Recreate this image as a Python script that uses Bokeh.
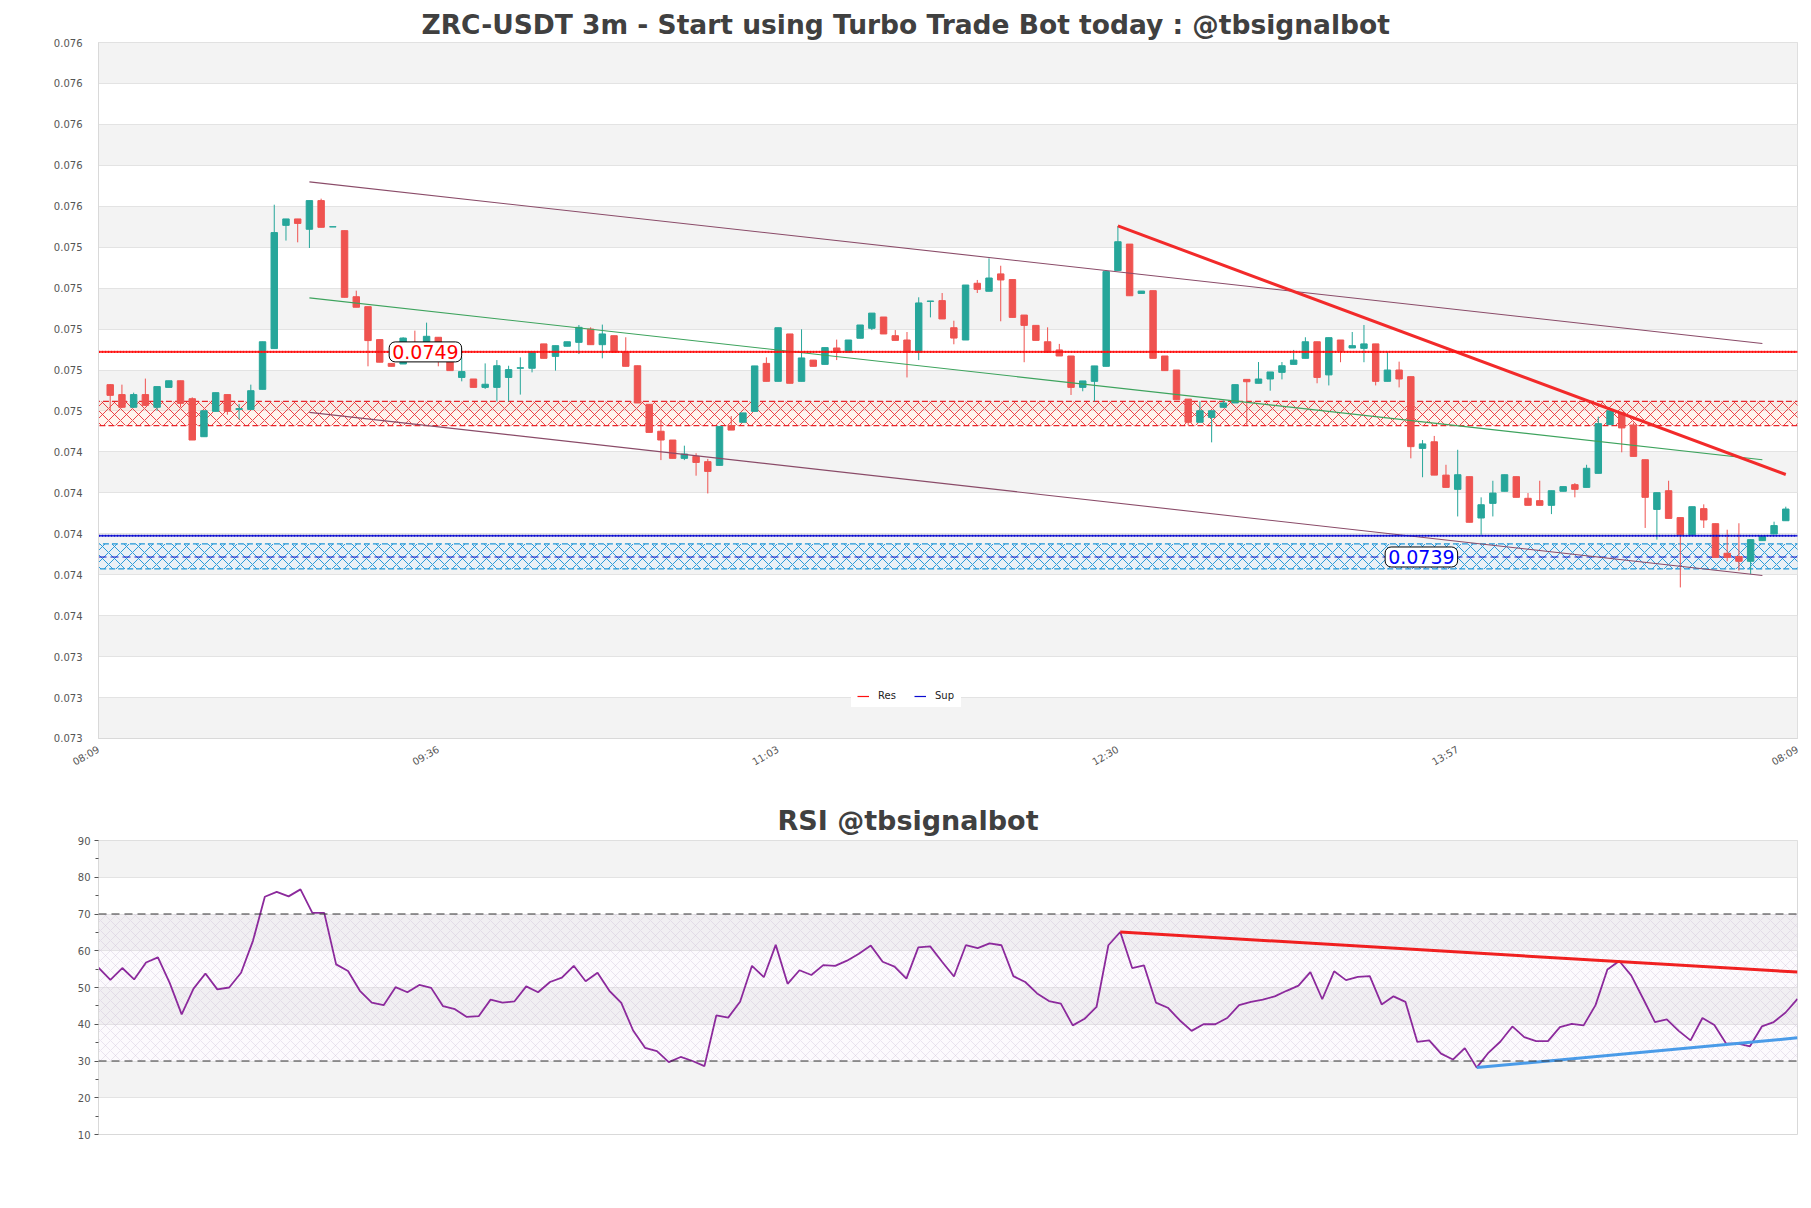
from bokeh.plotting import figure
from bokeh.models import ColumnDataSource, FixedTicker, Span, Label, Legend, LegendItem
from bokeh.layouts import column
from bokeh.embed import file_html
from bokeh.resources import INLINE

TITLE_MAIN = "ZRC-USDT 3m - Start using Turbo Trade Bot today : @tbsignalbot"
TITLE_RSI = "RSI @tbsignalbot"

X_TICKS = [-1, 28, 57, 86, 115, 144]
X_TICK_LABELS = ["08:09", "09:36", "11:03", "12:30", "13:57", "08:09"]

Y_TICKS = [0.07288, 0.07309, 0.0733, 0.07351, 0.07372, 0.07393, 0.07414, 0.07435, 0.07456,
           0.07477, 0.07498, 0.07519, 0.0754, 0.07561, 0.07582, 0.07603, 0.07624, 0.07645]
Y_TICK_LABELS = ["0.073", "0.073", "0.073", "0.074", "0.074", "0.074", "0.074", "0.074", "0.075",
                 "0.075", "0.075", "0.075", "0.075", "0.076", "0.076", "0.076", "0.076", "0.076"]

OPEN = [0.074695, 0.074644, 0.074579, 0.074644, 0.074579, 0.074681, 0.074715, 0.074623, 0.074428, 0.074558,
        0.074644, 0.074568, 0.074568, 0.074671, 0.07488, 0.075512, 0.075545, 0.075492, 0.075639, 0.075504,
        0.075485, 0.075146, 0.075095, 0.074926, 0.074804, 0.074801, 0.074912, 0.074886, 0.074938, 0.074852,
        0.074732, 0.074724, 0.074681, 0.074681, 0.074732, 0.074779, 0.074779, 0.074904, 0.07484, 0.074892,
        0.074912, 0.07498, 0.0749, 0.074946, 0.074862, 0.074792, 0.074594, 0.074456, 0.074411, 0.074317,
        0.074327, 0.0743, 0.074281, 0.074485, 0.074502, 0.074558, 0.074804, 0.074712, 0.074955, 0.074712,
        0.074821, 0.074799, 0.074883, 0.074861, 0.074933, 0.074984, 0.075042, 0.074946, 0.074924, 0.074861,
        0.075122, 0.075126, 0.074987, 0.074924, 0.075215, 0.075174, 0.075263, 0.075234, 0.075052, 0.074999,
        0.074915, 0.074873, 0.074842, 0.074681, 0.074712, 0.074789, 0.07528, 0.075416, 0.075163, 0.075177,
        0.074842, 0.07477, 0.074621, 0.074502, 0.074527, 0.074579, 0.074601, 0.074722, 0.074702, 0.074724,
        0.074758, 0.074799, 0.07483, 0.074915, 0.074745, 0.074924, 0.074883, 0.074881, 0.074904, 0.074712,
        0.07477, 0.074736, 0.074368, 0.074402, 0.074231, 0.074158, 0.074223, 0.074011, 0.074086, 0.074148,
        0.074223, 0.074112, 0.0741, 0.074076, 0.074148, 0.074182, 0.074168, 0.07424, 0.07449, 0.074553,
        0.074488, 0.07431, 0.074055, 0.074151, 0.074013, 0.073925, 0.074059, 0.073982, 0.07383, 0.073813,
        0.073789, 0.073895, 0.073929, 0.073997]
HIGH = [0.074698, 0.074695, 0.074654, 0.074726, 0.074685, 0.074715, 0.074715, 0.07463, 0.074561, 0.074654,
        0.074644, 0.074596, 0.074695, 0.074915, 0.075618, 0.075545, 0.075545, 0.075639, 0.075649, 0.075505,
        0.075485, 0.075177, 0.075095, 0.074926, 0.074804, 0.074938, 0.074972, 0.075013, 0.074938, 0.074861,
        0.074835, 0.074724, 0.074804, 0.074821, 0.074792, 0.074835, 0.074864, 0.074904, 0.074895, 0.074915,
        0.075001, 0.074989, 0.075003, 0.074946, 0.074938, 0.074792, 0.074594, 0.074514, 0.074411, 0.074382,
        0.074343, 0.074314, 0.074481, 0.074534, 0.07455, 0.074791, 0.074835, 0.074987, 0.074955, 0.074979,
        0.074821, 0.074885, 0.074926, 0.074924, 0.075001, 0.075062, 0.075042, 0.074975, 0.074965, 0.075143,
        0.075124, 0.075165, 0.075023, 0.075206, 0.075232, 0.075343, 0.075305, 0.075234, 0.075052, 0.074999,
        0.074989, 0.074904, 0.074842, 0.074714, 0.074791, 0.075275, 0.075509, 0.075416, 0.075175, 0.075177,
        0.074842, 0.07477, 0.074621, 0.074609, 0.074561, 0.074613, 0.074695, 0.074722, 0.074811, 0.07476,
        0.074811, 0.074873, 0.074938, 0.074915, 0.074936, 0.074924, 0.074965, 0.075001, 0.074904, 0.074862,
        0.074813, 0.074736, 0.074411, 0.074432, 0.074284, 0.074361, 0.074223, 0.074117, 0.074202, 0.074233,
        0.074223, 0.074139, 0.074202, 0.074151, 0.074172, 0.07419, 0.074284, 0.074531, 0.074561, 0.074553,
        0.0745, 0.07431, 0.074141, 0.074202, 0.074013, 0.074069, 0.074081, 0.073982, 0.073951, 0.073984,
        0.0739, 0.073917, 0.073992, 0.074069]
LOW = [0.074558, 0.074575, 0.074575, 0.074585, 0.074561, 0.074681, 0.074579, 0.074411, 0.074428, 0.074558,
       0.074541, 0.074517, 0.074568, 0.074671, 0.07488, 0.075434, 0.075425, 0.075396, 0.075502, 0.075504,
       0.075143, 0.075092, 0.074789, 0.07481, 0.074789, 0.074801, 0.074852, 0.074886, 0.074789, 0.074767,
       0.074712, 0.074681, 0.074673, 0.074609, 0.074609, 0.074644, 0.074758, 0.07483, 0.074767, 0.074892,
       0.074852, 0.0749, 0.07483, 0.074861, 0.074789, 0.074601, 0.07445, 0.074308, 0.074317, 0.074308,
       0.074228, 0.074137, 0.074281, 0.074462, 0.074502, 0.074558, 0.074712, 0.074712, 0.074702, 0.074712,
       0.074789, 0.074799, 0.074821, 0.074861, 0.074933, 0.074975, 0.074955, 0.074922, 0.074732, 0.074821,
       0.07504, 0.075032, 0.074902, 0.074924, 0.075165, 0.075174, 0.07502, 0.07504, 0.07481, 0.074922,
       0.074861, 0.074842, 0.074642, 0.074661, 0.074609, 0.074789, 0.07528, 0.075151, 0.075163, 0.07483,
       0.074767, 0.074618, 0.074485, 0.074502, 0.074399, 0.074579, 0.074601, 0.074488, 0.074702, 0.074664,
       0.074722, 0.074799, 0.07483, 0.074702, 0.074691, 0.07481, 0.074883, 0.07481, 0.074691, 0.074712,
       0.074681, 0.074317, 0.07422, 0.074231, 0.074168, 0.074019, 0.073989, 0.073925, 0.074019, 0.074148,
       0.074117, 0.074076, 0.074076, 0.074031, 0.074148, 0.074117, 0.074168, 0.07424, 0.07449, 0.074348,
       0.074327, 0.07396, 0.0739, 0.074009, 0.073655, 0.073925, 0.07396, 0.073809, 0.073789, 0.073741,
       0.073724, 0.073895, 0.073929, 0.073997]
CLOSE = [0.07464, 0.074579, 0.074644, 0.074589, 0.074685, 0.074715, 0.074599, 0.074411, 0.074561, 0.074654,
         0.074558, 0.074572, 0.074664, 0.074915, 0.075475, 0.075545, 0.075522, 0.075639, 0.075502, 0.075505,
         0.075143, 0.075092, 0.074921, 0.07481, 0.074789, 0.074934, 0.074861, 0.074943, 0.074852, 0.074767,
         0.074762, 0.074681, 0.074697, 0.074792, 0.074772, 0.074782, 0.074864, 0.07483, 0.074895, 0.074915,
         0.074989, 0.0749, 0.074955, 0.074861, 0.074789, 0.074601, 0.07445, 0.074411, 0.074317, 0.074339,
         0.074296, 0.07425, 0.074481, 0.074462, 0.07455, 0.074791, 0.074712, 0.074987, 0.074702, 0.074832,
         0.074789, 0.074885, 0.074861, 0.074924, 0.075001, 0.075062, 0.074955, 0.074922, 0.074861, 0.075114,
         0.075124, 0.075032, 0.074934, 0.075206, 0.075184, 0.075242, 0.075232, 0.07504, 0.074999, 0.074922,
         0.074861, 0.074842, 0.074681, 0.074714, 0.074791, 0.075275, 0.075428, 0.075151, 0.075175, 0.07483,
         0.074767, 0.074618, 0.074502, 0.074561, 0.074561, 0.074601, 0.074695, 0.07471, 0.074724, 0.07476,
         0.074792, 0.074821, 0.074915, 0.074732, 0.074936, 0.074869, 0.074895, 0.074904, 0.074712, 0.07477,
         0.074724, 0.074377, 0.074391, 0.074231, 0.074168, 0.074233, 0.073989, 0.074079, 0.074139, 0.074233,
         0.074117, 0.074076, 0.074076, 0.074151, 0.074172, 0.074158, 0.074266, 0.074495, 0.074561, 0.074473,
         0.074327, 0.074117, 0.074141, 0.074009, 0.073925, 0.074069, 0.074001, 0.073809, 0.073809, 0.073789,
         0.0739, 0.073917, 0.073972, 0.074057]

RSI = [55.4, 52.1, 55.3, 52.2, 56.8, 58.2, 51.2, 42.7, 49.7, 53.8,
       49.5, 50.0, 54.0, 62.7, 74.7, 76.0, 74.8, 76.7, 70.3, 70.3,
       56.3, 54.5, 49.1, 45.9, 45.2, 50.1, 48.7, 50.7, 49.9, 44.9,
       44.1, 42.0, 42.2, 46.7, 45.9, 46.2, 50.3, 48.7, 51.5, 52.7,
       55.9, 51.7, 54.0, 49.1, 45.8, 38.3, 33.6, 32.7, 29.7, 31.1,
       30.0, 28.6, 42.4, 41.8, 46.1, 55.9, 52.8, 61.6, 51.0, 54.7,
       53.4, 56.1, 55.9, 57.3, 59.2, 61.4, 57.0, 55.7, 52.4, 60.9,
       61.2, 57.0, 53.0, 61.5, 60.7, 62.0, 61.5, 53.1, 51.5, 48.4,
       46.3, 45.6, 39.7, 41.5, 44.7, 61.5, 65.1, 55.3, 56.0, 45.9,
       44.5, 41.1, 38.2, 40.0, 40.0, 41.7, 45.2, 46.1, 46.7, 47.6,
       49.1, 50.5, 54.2, 46.8, 54.4, 52.0, 52.9, 53.1, 45.4, 47.6,
       46.1, 35.2, 35.6, 32.0, 30.4, 33.5, 28.2, 32.3, 35.3, 39.4,
       36.5, 35.4, 35.4, 39.2, 40.1, 39.7, 45.2, 54.9, 57.2, 53.3,
       47.0, 40.6, 41.3, 38.2, 35.6, 41.7, 39.8, 34.7, 34.7, 34.0,
       39.4, 40.6, 43.2, 46.9]

RSI_TICKS = [10, 20, 30, 40, 50, 60, 70, 80, 90]
RSI_MINOR = [15, 25, 35, 45, 55, 65, 75, 85]
RSI_LEVELS = [70, 30]

# channel and trend lines: (x indices, prices)
CH_UPPER_X, CH_UPPER_Y = [17, 141], [0.075735, 0.074906]
CH_MID_X, CH_MID_Y = [17, 141], [0.07514, 0.07431]
CH_LOWER_X, CH_LOWER_Y = [17, 141], [0.074553, 0.073716]
TREND_X, TREND_Y = [86, 143], [0.075509, 0.074234]

RES_LEVEL = 0.074863
RES_ZONE = [0.074485, 0.074609]
SUP_LEVEL = 0.07392
SUP_ZONE = [0.07375, 0.073878]
SUP_MID = 0.073811
RES_TEXT, RES_TEXT_X = "0.0749", 26.9
SUP_TEXT, SUP_TEXT_X = "0.0739", 111.9
LEGEND_LABELS = ["Res", "Sup"]

RSI_RES_X, RSI_RES_Y = [86, 143], [65.1, 54.2]
RSI_SUP_X, RSI_SUP_Y = [116, 143], [28.2, 36.3]

UP, DOWN = "#26a69a", "#ef5350"
RES_COLOR, SUP_COLOR = "#ff1010", "#0a0ad0"
FONT = "DejaVu Sans"
LABEL_COLOR = "#555555"

n = len(OPEN)
idx = list(range(n))
colors = [UP if c >= o else DOWN for o, c in zip(OPEN, CLOSE)]
src = ColumnDataSource(dict(x=idx, o=OPEN, h=HIGH, l=LOW, c=CLOSE,
                            top=[max(o, c) for o, c in zip(OPEN, CLOSE)],
                            bot=[min(o, c) for o, c in zip(OPEN, CLOSE)],
                            col=colors))

W = 1803
X0, X1 = X_TICKS[0], X_TICKS[-1]

p = figure(width=W, height=790, x_range=(X0 - 1e-6, X1 + 1e-6),
           y_range=(Y_TICKS[0] - 1e-9, Y_TICKS[-1] + 1e-9),
           output_backend="svg", toolbar_location=None,
           min_border_left=98, min_border_right=6, min_border_top=42, min_border_bottom=52)
p.title.text = TITLE_MAIN
p.title.text_font = FONT
p.title.text_font_size = "26.5px"
p.title.text_font_style = "bold"
p.title.text_color = "#404040"
p.title.align = "left"
p.title.offset = 323
p.title.standoff = 6
p.background_fill_color = "white"
p.border_fill_color = "white"
p.outline_line_color = "#d9d9d9"

p.xgrid.visible = False
p.ygrid.ticker = FixedTicker(ticks=Y_TICKS)
p.ygrid.grid_line_color = "#e3e3e3"
p.ygrid.band_fill_color = "#f3f3f3"
p.ygrid.band_fill_alpha = 1.0

p.yaxis.ticker = FixedTicker(ticks=Y_TICKS)
p.yaxis.major_label_overrides = {t: s for t, s in zip(Y_TICKS, Y_TICK_LABELS)}
p.xaxis.ticker = FixedTicker(ticks=X_TICKS)
p.xaxis.major_label_overrides = {t: s for t, s in zip(X_TICKS, X_TICK_LABELS)}
p.xaxis.major_label_orientation = 0.52
for ax in (p.xaxis[0], p.yaxis[0]):
    ax.axis_line_color = "#d9d9d9"
    ax.major_tick_line_color = None
    ax.minor_tick_line_color = None
    ax.major_label_text_font = FONT
    ax.major_label_text_font_size = "10px"
    ax.major_label_text_color = LABEL_COLOR
p.yaxis.major_label_standoff = 10
p.xaxis.major_label_standoff = 4

# zones
p.quad(left=X0 - 5, right=X1 + 5, bottom=RES_ZONE[0], top=RES_ZONE[1],
       fill_color="#ffd9c8", fill_alpha=0.3, hatch_pattern="x", hatch_color="#e8262b",
       hatch_alpha=0.85, hatch_scale=12, hatch_weight=1,
       line_color="#e8262b", line_dash="6 3", line_width=1.3)
p.quad(left=X0 - 5, right=X1 + 5, bottom=SUP_ZONE[0], top=SUP_ZONE[1],
       fill_color="#d8ecff", fill_alpha=0.3, hatch_pattern="x", hatch_color="#2197d8",
       hatch_alpha=0.95, hatch_scale=12, hatch_weight=1,
       line_color="#2197d8", line_dash="6 3", line_width=1.3)
p.line(x=[X0, X1], y=[SUP_MID, SUP_MID], line_color="#1010c8", line_dash="8 4", line_width=1.2)

# candles
p.segment(x0="x", y0="l", x1="x", y1="h", line_color="col", line_width=1, source=src)
p.vbar(x="x", width=0.55, top="top", bottom="bot", fill_color="col", line_color="col",
       line_width=1, source=src)

# channel lines
p.line(x=CH_UPPER_X, y=CH_UPPER_Y, line_color="#8a4b68", line_width=1.1)
p.line(x=CH_LOWER_X, y=CH_LOWER_Y, line_color="#8a4b68", line_width=1.1)
p.line(x=CH_MID_X, y=CH_MID_Y, line_color="#3da35d", line_width=1.1)
p.line(x=TREND_X, y=TREND_Y, line_color="#f22a2a", line_width=3)

# support / resistance levels: thin solid core plus dense dotted overlay
res_core = p.line(x=[X0, X1], y=[RES_LEVEL, RES_LEVEL], line_color=RES_COLOR, line_width=1.2)
sup_core = p.line(x=[X0, X1], y=[SUP_LEVEL, SUP_LEVEL], line_color=SUP_COLOR, line_width=1.2)
p.line(x=[X0, X1], y=[RES_LEVEL, RES_LEVEL], line_color=RES_COLOR, line_dash="2 1", line_width=2.2)
p.line(x=[X0, X1], y=[SUP_LEVEL, SUP_LEVEL], line_color=SUP_COLOR, line_dash="2 1", line_width=2.2)

p.add_layout(Label(x=RES_TEXT_X, y=RES_LEVEL, text=RES_TEXT, text_color="#ff0000",
                   text_font=FONT, text_font_size="19px", text_align="center",
                   text_baseline="middle", background_fill_color="white",
                   border_line_color="black", border_line_width=1, border_radius=6, padding=3))
p.add_layout(Label(x=SUP_TEXT_X, y=SUP_MID, text=SUP_TEXT, text_color="#0000ff",
                   text_font=FONT, text_font_size="19px", text_align="center",
                   text_baseline="middle", background_fill_color="white",
                   border_line_color="black", border_line_width=1, border_radius=6, padding=3))

legend = Legend(items=[LegendItem(label=LEGEND_LABELS[0], renderers=[res_core]),
                       LegendItem(label=LEGEND_LABELS[1], renderers=[sup_core])],
                orientation="horizontal", location=(753, 31),
                label_text_font=FONT, label_text_font_size="10px", label_text_color="#222222",
                glyph_width=12, glyph_height=10, label_standoff=9, spacing=16,
                padding=6, margin=0, border_line_alpha=0, background_fill_alpha=1)
p.add_layout(legend)

# RSI panel
r = figure(width=W, height=354, x_range=(0, len(RSI) - 1), y_range=(RSI_TICKS[0], RSI_TICKS[-1]),
           output_backend="svg", toolbar_location=None,
           min_border_left=98, min_border_right=6, min_border_top=50, min_border_bottom=10)
r.title.text = TITLE_RSI
r.title.text_font = FONT
r.title.text_font_size = "27px"
r.title.text_font_style = "bold"
r.title.text_color = "#404040"
r.title.align = "left"
r.title.offset = 679
r.title.standoff = 9
r.background_fill_color = "white"
r.border_fill_color = "white"
r.outline_line_color = "#d9d9d9"
r.xaxis.visible = False
r.xgrid.visible = False
r.ygrid.ticker = FixedTicker(ticks=RSI_TICKS)
r.ygrid.grid_line_color = "#e3e3e3"
r.ygrid.band_fill_color = "#f3f3f3"
r.ygrid.band_fill_alpha = 1.0
r.yaxis.ticker = FixedTicker(ticks=RSI_TICKS, minor_ticks=RSI_MINOR)
r.yaxis.axis_line_color = "#d9d9d9"
r.yaxis.major_tick_line_color = "#555555"
r.yaxis.major_tick_in = 0
r.yaxis.major_tick_out = 4
r.yaxis.minor_tick_line_color = "#555555"
r.yaxis.minor_tick_in = 0
r.yaxis.minor_tick_out = 3
r.yaxis.major_label_text_font = FONT
r.yaxis.major_label_text_font_size = "10px"
r.yaxis.major_label_text_color = LABEL_COLOR
r.yaxis.major_label_standoff = 4

r.quad(left=-5, right=len(RSI) + 5, bottom=RSI_LEVELS[1], top=RSI_LEVELS[0],
       fill_color="#e9dcf0", fill_alpha=0.15, hatch_pattern="x", hatch_color="#c4b4d2",
       hatch_alpha=0.55, hatch_scale=10, hatch_weight=0.6, line_color=None)
for lv in RSI_LEVELS:
    r.add_layout(Span(location=lv, dimension="width", line_color="#333333",
                      line_dash="8 5", line_width=1.2))
r.line(x=list(range(len(RSI))), y=RSI, line_color="#8c2a9c", line_width=1.8)
r.line(x=RSI_RES_X, y=RSI_RES_Y, line_color="#f02020", line_width=3)
r.line(x=RSI_SUP_X, y=RSI_SUP_Y, line_color="#4a9be8", line_width=3)

layout = column(p, r, spacing=0)
open("out.html", "w").write(file_html(layout, INLINE))
